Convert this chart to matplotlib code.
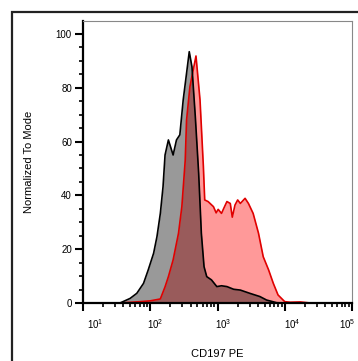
import matplotlib
matplotlib.use("Agg")
import matplotlib.pyplot as plt
import numpy as np
from matplotlib.patches import Rectangle
from matplotlib.transforms import ScaledTranslation
from matplotlib.ticker import FixedLocator, FixedFormatter, LogLocator, NullFormatter

plt.rcParams['font.family'] = ['Liberation Sans', 'DejaVu Sans']
plt.rcParams['mathtext.fontset'] = 'custom'
plt.rcParams['mathtext.rm'] = 'Liberation Sans'
plt.rcParams['mathtext.it'] = 'Liberation Sans'
plt.rcParams['mathtext.bf'] = 'Liberation Sans'

# Control (gray) histogram: log10 of CD197 PE intensity, normalized to mode
gray_log = [1.00, 1.55, 1.70, 1.80, 1.90, 1.97, 2.05, 2.10, 2.15, 2.19, 2.22, 2.27,
            2.34, 2.39, 2.44, 2.49, 2.54, 2.58, 2.62, 2.67, 2.72, 2.76, 2.80, 2.84,
            2.91, 2.99, 3.06, 3.14, 3.24, 3.34, 3.48, 3.63, 3.73, 3.88, 3.98, 5.00]
gray_val = [0.0, 0.0, 1.7, 3.6, 7.3, 12.3, 18.5, 24.7, 33.3, 43.2, 55.0, 60.6,
            55.0, 60.6, 62.5, 75.5, 85.4, 93.4, 87.8, 69.3, 48.2, 25.9, 13.5, 9.8,
            8.6, 6.1, 6.4, 6.1, 5.1, 4.8, 3.6, 2.4, 1.1, 0.1, 0.0, 0.0]

# Stained (red) histogram
red_log = [1.00, 1.55, 1.85, 2.00, 2.15, 2.22, 2.27, 2.34, 2.42, 2.47, 2.52, 2.54,
           2.59, 2.68, 2.74, 2.79, 2.81, 2.86, 2.94, 2.98, 3.01, 3.06, 3.09, 3.14,
           3.19, 3.22, 3.26, 3.30, 3.34, 3.41, 3.46, 3.53, 3.61, 3.68, 3.76, 3.83,
           3.90, 4.00, 4.08, 4.23, 4.38, 5.00]
red_val = [0.0, 0.0, 0.5, 0.8, 1.5, 6.0, 9.8, 16.0, 25.9, 35.8, 53.0, 68.0,
           80.4, 91.8, 75.5, 50.7, 38.3, 37.7, 35.8, 33.5, 34.8, 33.3, 35.0, 37.7,
           37.0, 31.9, 36.4, 38.3, 37.0, 38.9, 37.0, 33.3, 25.9, 17.2, 12.3, 7.3,
           3.0, 0.5, 0.3, 0.4, 0.0, 0.0]

xticks = [1e1, 1e2, 1e3, 1e4, 1e5]
xticklabels = [r'10$^{1}$', r'10$^{2}$', r'10$^{3}$', r'10$^{4}$', r'10$^{5}$']
yticks = [0, 20, 40, 60, 80, 100]

W, H = 358, 361
fig = plt.figure(figsize=(W / 100, H / 100), dpi=100)
ax = fig.add_axes([83 / W, 1 - 303 / H, (352 - 83) / W, (303 - 21) / H])

gx = 10 ** np.array(gray_log)
rx = 10 ** np.array(red_log)

ax.fill_between(rx, 0, red_val, color=(1, 0, 0), alpha=0.4, linewidth=0)
ax.plot(rx, red_val, color='#e00000', lw=1.2)
ax.fill_between(gx, 0, gray_val, color=(0, 0, 0), alpha=0.4, linewidth=0)
ax.plot(gx, gray_val, color='black', lw=1.2)

ax.set_xscale('log')
ax.set_xlim(1e1, 1e5)
ax.set_ylim(0, 104.8)

ax.xaxis.set_major_locator(FixedLocator(xticks))
ax.xaxis.set_major_formatter(FixedFormatter(xticklabels))
ax.xaxis.set_minor_locator(LogLocator(base=10, subs=np.arange(2, 10)))
ax.xaxis.set_minor_formatter(NullFormatter())

ax.set_yticks(yticks)
ax.set_yticks(np.arange(0, 105, 5), minor=True)

ax.tick_params(axis='both', which='major', length=6, width=1.5, labelsize=7, colors='black')
ax.tick_params(axis='both', which='minor', length=3, width=1.2)
ax.tick_params(axis='x', which='major', pad=4)
ax.tick_params(axis='y', which='major', pad=2)

# shift x tick labels as in the reference (pixel offsets)
label_shift_px = [12, 5, 6, 8, -5]
for lab, dx in zip(ax.get_xticklabels(), label_shift_px):
    lab.set_transform(lab.get_transform() + ScaledTranslation(dx / 100, 0, fig.dpi_scale_trans))

for s in ['left', 'bottom']:
    ax.spines[s].set_linewidth(1.6)
    ax.spines[s].set_color('black')
for s in ['top', 'right']:
    ax.spines[s].set_linewidth(0.8)
    ax.spines[s].set_color('#888888')

ax.set_xlabel('CD197 PE', fontsize=8, labelpad=13)
ax.set_ylabel('Normalized To Mode', fontsize=8, labelpad=16)

fig.add_artist(Rectangle((11.5 / W, -0.1), 1.2, 1 - 11.5 / H + 0.1,
                         transform=fig.transFigure, fill=False,
                         edgecolor='#222222', linewidth=1.6, clip_on=False))

fig.savefig('out.png', dpi=100)
